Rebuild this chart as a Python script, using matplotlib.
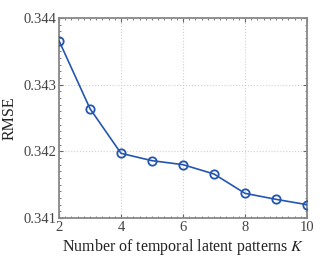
import numpy as np
import matplotlib
matplotlib.use("Agg")
import matplotlib.pyplot as plt
from matplotlib.ticker import AutoMinorLocator

plt.rcParams['font.family'] = ['Liberation Serif', 'DejaVu Serif']
plt.rcParams['mathtext.fontset'] = 'stix'

# data
k_values = [2, 3, 4, 5, 6, 7, 8, 9, 10]
rmse = [0.34366, 0.34264, 0.34197, 0.34186, 0.34180, 0.34166, 0.34137, 0.34128, 0.34120]
x_ticks = [2, 4, 6, 8, 10]
y_ticks = [0.341, 0.342, 0.343, 0.344]

fig = plt.figure(figsize=(3.32, 2.63), dpi=100)
ax = fig.add_axes([59/332, 45/263, 248/332, 200/263])

ax.plot(k_values, rmse, color='#2456b0', linewidth=1.2, marker='o',
        markersize=6, markerfacecolor='none', markeredgewidth=1.3, zorder=3)

ax.set_xlim(2, 10)
ax.set_ylim(0.341, 0.344)
ax.set_xticks(x_ticks)
ax.set_yticks(y_ticks)
ax.set_yticklabels(['%.3f' % v for v in y_ticks])
ax.xaxis.set_minor_locator(AutoMinorLocator(10))
ax.yaxis.set_minor_locator(AutoMinorLocator(10))

ax.grid(True, which='major', linestyle=':', color='#d0d0d0', linewidth=0.8)
ax.tick_params(which='both', direction='in', top=True, right=True,
               color='#666666', labelsize=10.5, labelcolor='#444444')
ax.tick_params(which='major', length=3, pad=2)
ax.tick_params(which='minor', length=1.5)
for s in ax.spines.values():
    s.set_color('#888888')
    s.set_linewidth(1.3)

ax.set_xlabel('Number of temporal latent patterns $K$', fontsize=11.5, color='#222222', labelpad=2)
ax.set_ylabel('RMSE', fontsize=11.5, color='#222222', labelpad=4)

fig.savefig('out.png', dpi=100)
